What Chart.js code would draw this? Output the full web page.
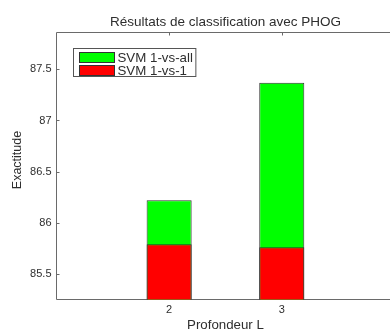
<!DOCTYPE html>
<html>
<head>
<meta charset="utf-8">
<script src="https://cdn.jsdelivr.net/npm/chart.js@4/dist/chart.umd.min.js"></script>
<style>
  html, body { margin: 0; padding: 0; background: #fff; overflow: hidden; }
  #wrap { width: 400px; height: 332px; }
</style>
</head>
<body>
<div id="wrap"><canvas id="chart" width="400" height="332"></canvas></div>
<script>
// Accuracy (%) per pyramid depth L, for each SVM strategy
const depths = [2, 3];
const oneVsAll = [86.22, 87.37];
const oneVsOne = [85.79, 85.76];

const xTicks = [2, 3];
const yTicks = [85.5, 86, 86.5, 87, 87.5];
const xRange = [1, 4];
const yRange = [85.25, 87.86];

const titleText = 'Résultats de classification avec PHOG';
const yTitle = 'Exactitude';
const FONT = '"Liberation Sans", Arial, Helvetica, sans-serif';
const AXIS = '#6a6a6a';
const TEXT = '#2e2e2e';

const toPoints = vals => depths.map((d, i) => ({ x: d, y: vals[i] }));

// axes box, inward tick marks, title and y label
const frame = {
  id: 'frame',
  beforeDatasetsDraw(chart) {
    const { ctx, chartArea: a, scales: { x, y } } = chart;
    ctx.save();
    ctx.strokeStyle = AXIS;
    ctx.lineWidth = 1;
    ctx.beginPath();
    ctx.moveTo(a.right, a.top);
    ctx.lineTo(a.left, a.top);
    ctx.lineTo(a.left, a.bottom);
    ctx.lineTo(a.right, a.bottom);
    const t = 3;
    yTicks.forEach(v => {
      const py = Math.round(y.getPixelForValue(v)) + 0.5;
      ctx.moveTo(a.left, py);
      ctx.lineTo(a.left + t, py);
    });
    xTicks.forEach(v => {
      const px = Math.round(x.getPixelForValue(v)) + 0.5;
      ctx.moveTo(px, a.top);
      ctx.lineTo(px, a.top + t);
      ctx.moveTo(px, a.bottom);
      ctx.lineTo(px, a.bottom - t);
    });
    ctx.stroke();
    ctx.restore();
  },
  afterDraw(chart) {
    const { ctx, chartArea: a } = chart;
    ctx.save();
    ctx.fillStyle = TEXT;
    ctx.font = '13.5px ' + FONT;
    ctx.textAlign = 'center';
    ctx.textBaseline = 'alphabetic';
    ctx.fillText(titleText, (a.left + a.right) / 2, 26);
    ctx.font = '12.5px ' + FONT;
    ctx.textBaseline = 'middle';
    ctx.translate(18, 160);
    ctx.rotate(-Math.PI / 2);
    ctx.fillText(yTitle, 0, 0);
    ctx.restore();
  }
};

// legend box inside the upper-left corner of the plot
const boxLegend = {
  id: 'boxLegend',
  afterDatasetsDraw(chart) {
    const { ctx, chartArea: a } = chart;
    const sets = chart.data.datasets;
    ctx.save();
    ctx.font = '13.3px ' + FONT;
    const tw = Math.max(...sets.map(s => ctx.measureText(s.label).width));
    const bx = Math.round(a.left + 16) + 0.5;
    const by = Math.round(a.top + 15) + 0.5;
    const bw = 44 + tw + 3;
    const bh = 28;
    ctx.fillStyle = '#fff';
    ctx.fillRect(bx, by, bw, bh);
    ctx.strokeStyle = '#555';
    ctx.lineWidth = 1;
    ctx.strokeRect(bx, by, bw, bh);
    sets.forEach((s, i) => {
      const sy = by + 4 + i * 13;
      ctx.fillStyle = s.backgroundColor;
      ctx.fillRect(bx + 6, sy, 35, 10);
      ctx.strokeStyle = '#333';
      ctx.strokeRect(bx + 6, sy, 35, 10);
      ctx.fillStyle = TEXT;
      ctx.textBaseline = 'middle';
      ctx.fillText(s.label, bx + 44, sy + 5.5);
    });
    ctx.restore();
  }
};

new Chart(document.getElementById('chart'), {
  type: 'bar',
  data: {
    datasets: [
      {
        label: 'SVM 1-vs-all',
        data: toPoints(oneVsAll),
        backgroundColor: '#00ff00',
        borderColor: '#303030',
        borderWidth: 1,
        order: 2
      },
      {
        label: 'SVM 1-vs-1',
        data: toPoints(oneVsOne),
        backgroundColor: '#ff0000',
        borderColor: '#303030',
        borderWidth: 1,
        order: 1
      }
    ]
  },
  options: {
    responsive: false,
    animation: false,
    barPercentage: 0.4,
    categoryPercentage: 1,
    layout: { padding: { top: 32.5, right: 5.6, left: 0, bottom: 0 } },
    plugins: {
      legend: { display: false },
      tooltip: { enabled: false }
    },
    scales: {
      x: {
        type: 'linear',
        stacked: true,
        offset: false,
        min: xRange[0],
        max: xRange[1],
        afterBuildTicks: s => { s.ticks = xTicks.map(v => ({ value: v })); },
        afterFit: s => { s.height = 32.5; },
        grid: { display: false, drawTicks: false },
        border: { display: false },
        ticks: { color: TEXT, font: { family: FONT, size: 11 }, padding: 4, callback: v => String(v) },
        title: {
          display: true,
          text: 'Profondeur L',
          color: TEXT,
          font: { family: FONT, size: 13.3 },
          padding: { top: 0, bottom: -1 }
        }
      },
      y: {
        stacked: false,
        min: yRange[0],
        max: yRange[1],
        afterBuildTicks: s => { s.ticks = yTicks.map(v => ({ value: v })); },
        afterFit: s => { s.width = 56.5; },
        grid: { display: false, drawTicks: false },
        border: { display: false },
        ticks: { color: TEXT, font: { family: FONT, size: 11 }, padding: 5, callback: v => String(v) },
        title: { display: false }
      }
    }
  },
  plugins: [frame, boxLegend]
});
</script>
</body>
</html>
